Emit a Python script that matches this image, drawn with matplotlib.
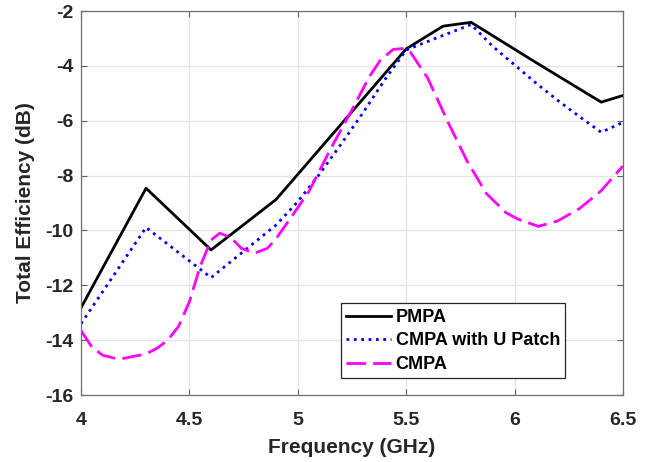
import matplotlib.pyplot as plt

# PMPA
f_pmpa = [4.0, 4.3, 4.6, 4.9, 5.5, 5.67, 5.8, 6.1, 6.4, 6.5]
eff_pmpa = [-12.82, -8.46, -10.71, -8.87, -3.38, -2.55, -2.41, -3.88, -5.32, -5.08]

# CMPA with U Patch
f_upatch = [4.0, 4.3, 4.6, 4.9, 5.0, 5.1, 5.2, 5.3, 5.4, 5.5, 5.65, 5.8,
            5.9, 6.0, 6.1, 6.2, 6.3, 6.4, 6.5]
eff_upatch = [-13.40, -9.89, -11.72, -9.80, -8.95, -7.95, -6.85, -5.72, -4.52,
              -3.42, -2.95, -2.49, -3.29, -3.96, -4.63, -5.26, -5.85, -6.42, -6.06]

# CMPA
f_cmpa = [4.0, 4.05, 4.1, 4.15, 4.2, 4.3, 4.35, 4.4, 4.45, 4.5, 4.55, 4.6,
          4.64, 4.69, 4.74, 4.8, 4.86, 4.9, 4.95, 5.05, 5.15, 5.25, 5.33,
          5.38, 5.44, 5.49, 5.52, 5.6, 5.69, 5.78, 5.87, 5.96, 6.02, 6.11,
          6.2, 6.3, 6.4, 6.5]
eff_cmpa = [-13.65, -14.25, -14.55, -14.65, -14.66, -14.5, -14.3, -14.0,
            -13.5, -12.6, -11.3, -10.35, -10.1, -10.25, -10.65, -10.83,
            -10.65, -10.3, -9.74, -8.6, -7.05, -5.6, -4.4, -3.8, -3.4,
            -3.36, -3.5, -4.45, -6.0, -7.45, -8.65, -9.35, -9.6, -9.85,
            -9.65, -9.2, -8.55, -7.65]

xticks = [4, 4.5, 5, 5.5, 6, 6.5]
xtick_labels = ['4', '4.5', '5', '5.5', '6', '6.5']
yticks = [-16, -14, -12, -10, -8, -6, -4, -2]

plt.rcParams['font.family'] = ['Liberation Sans', 'DejaVu Sans']
plt.rcParams['font.weight'] = 'bold'
plt.rcParams['axes.unicode_minus'] = False

fig = plt.figure(figsize=(6.56, 4.62), dpi=100)
ax = fig.add_axes([0.1235, 0.145, 0.826, 0.831])

ax.plot(f_pmpa, eff_pmpa, color='black', lw=2, label='PMPA')
ax.plot(f_upatch, eff_upatch, color='#0000ff', lw=2, ls=':', label='CMPA with U Patch')
ax.plot(f_cmpa, eff_cmpa, color='#ff00ff', lw=2, dashes=(7, 2.6), label='CMPA')

ax.set_xlim(4, 6.5)
ax.set_ylim(-16, -2)
ax.set_xticks(xticks)
ax.set_xticklabels(xtick_labels)
ax.set_yticks(yticks)
ax.grid(True, color='#e3e3e3', lw=0.9)
ax.set_axisbelow(True)

ax.tick_params(direction='in', top=True, right=True, length=4, width=0.8,
               colors='#606060', labelcolor='#262626', labelsize=14)
ax.tick_params(axis='x', pad=12.5)
ax.tick_params(axis='y', pad=5.5)
for s in ax.spines.values():
    s.set_color('#707070')
    s.set_linewidth(0.9)

ax.set_xlabel('Frequency (GHz)', fontsize=15, fontweight='bold', color='#262626', labelpad=6)
ax.set_ylabel('Total Efficiency (dB)', fontsize=15, fontweight='bold', color='#262626', labelpad=7)

leg = ax.legend(loc='lower left', bbox_to_anchor=(0.479, 0.0435), borderaxespad=0,
                fontsize=13, handlelength=2.5, handletextpad=0.25, labelspacing=0.36,
                borderpad=0.3, fancybox=False, framealpha=1, edgecolor='#262626')
leg.get_frame().set_linewidth(0.9)

fig.savefig('out.png', dpi=100)
